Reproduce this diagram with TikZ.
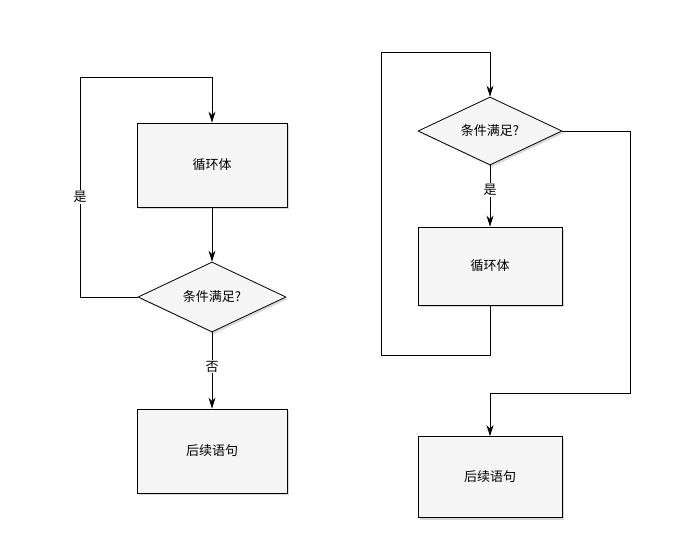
\documentclass[tikz,border=0pt]{standalone}
\usepackage{fontspec}
\setmainfont{Noto Sans CJK SC}
\usetikzlibrary{shapes.geometric,arrows.meta,shadows}
\begin{document}
\begin{tikzpicture}[x=1pt,y=-1pt,
  box/.style={draw,thick,fill=gray!8,minimum width=150pt,minimum height=84pt,font=\fontsize{13}{15}\selectfont,drop shadow={opacity=0.3,shadow xshift=2pt,shadow yshift=-2pt}},
  cond/.style={diamond,draw,thick,fill=gray!8,aspect=2.1,minimum width=148pt,minimum height=70pt,inner sep=0pt,font=\fontsize{13}{15}\selectfont,drop shadow={opacity=0.3,shadow xshift=2pt,shadow yshift=-2pt}},
  lbl/.style={fill=white,inner sep=1pt,font=\fontsize{13}{15}\selectfont},
  arr/.style={-{Stealth[length=11pt,width=7pt]},thick}]
\useasboundingbox (0,0) rectangle (690,543);
% left
\node[box] (L1) at (212,165) {循环体};
\node[cond,minimum width=148pt,minimum height=70pt] (L2) at (212,297) {条件满足?};
\node[box] (L3) at (212,451) {后续语句};
\coordinate (la) at (80,297);
\coordinate (lb) at (80,77);
\coordinate (lc) at (212,77);
\draw[arr] (L1) -- (L2);
\draw[arr] (L2) -- node[lbl,pos=0.45]{否} (L3);
\draw[arr] (L2.west) -- (la) -- node[lbl,pos=0.455]{是} (lb) -- (lc) -- (L1.north);
% right
\node[cond,minimum width=144pt,minimum height=68pt] (R1) at (490,131) {条件满足?};
\node[box,minimum width=144pt,minimum height=78pt] (R2) at (490,266) {循环体};
\node[box,minimum width=144pt,minimum height=81pt] (R3) at (490,477) {后续语句};
\draw[arr] (R1) -- node[lbl,pos=0.4]{是} (R2);
\coordinate (ra) at (490,355);
\coordinate (rb) at (381,355);
\coordinate (rc) at (381,52);
\coordinate (rd) at (490,52);
\draw[arr] (R2.south) -- (ra) -- (rb) -- (rc) -- (rd) -- (R1.north);
\coordinate (re) at (630,131);
\coordinate (rf) at (630,393);
\coordinate (rg) at (490,393);
\draw[arr] (R1.east) -- (re) -- (rf) -- (rg) -- (R3.north);
\end{tikzpicture}
\end{document}
